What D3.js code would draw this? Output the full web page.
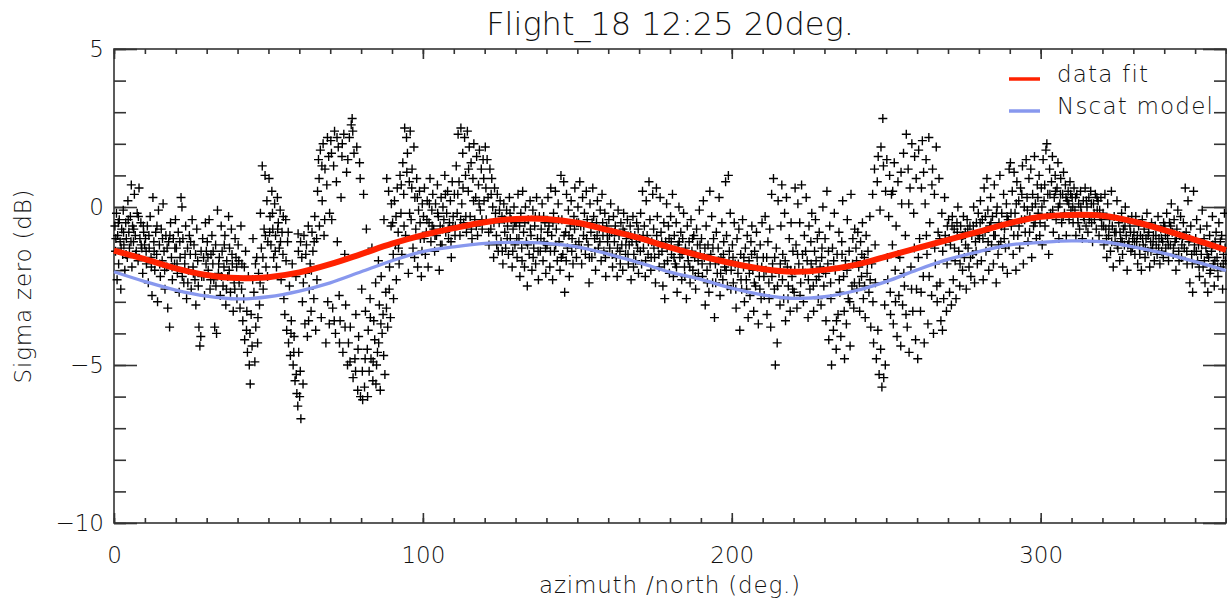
<!DOCTYPE html>
<html><head><meta charset="utf-8">
<script src="https://cdn.jsdelivr.net/npm/d3@7"></script>
<style>
body{margin:0;background:#fff}
text{font-family:"DejaVu Sans",sans-serif;font-weight:200;fill:#111}
</style></head>
<body><svg id="c" width="1227" height="605"></svg>
<script>
const title = "Flight_18 12:25 20deg.";
const xLabel = "azimuth /north (deg.)";
const yLabel = "Sigma zero (dB)";
const xTicks = [0,100,200,300];
const xMinor = d3.range(0,361,10);
const yTicks = [-10,-5,0,5];
const yMinor = d3.range(-10,6,1);
const seriesNames = ["data fit","Nscat model"];
const seriesColors = ["#ff2200","#8898ee"];
const azGrid = [0,10,20,30,40,50,60,70,80,90,100,110,120,130,140,150,160,170,180,190,200,210,220,230,240,250,260,270,280,290,300,310,320,330,340,350,360];
const dataFit = [-1.38,-1.65,-1.94,-2.15,-2.25,-2.22,-2.07,-1.81,-1.49,-1.16,-0.89,-0.67,-0.48,-0.38,-0.38,-0.5,-0.73,-0.98,-1.28,-1.55,-1.78,-1.96,-2.05,-1.99,-1.83,-1.57,-1.3,-1.04,-0.78,-0.51,-0.31,-0.25,-0.28,-0.46,-0.73,-1.04,-1.36];
const nscatModel = [-2.05,-2.36,-2.63,-2.82,-2.91,-2.84,-2.66,-2.4,-2.05,-1.7,-1.41,-1.26,-1.15,-1.12,-1.15,-1.26,-1.49,-1.76,-2.06,-2.29,-2.57,-2.78,-2.89,-2.84,-2.65,-2.36,-1.99,-1.66,-1.41,-1.2,-1.12,-1.07,-1.1,-1.26,-1.47,-1.73,-2.01];
const samples = [
[0.3,-0.6],[0.5,-1.4],[0.8,-0.2],[1.0,-2.3],[1.2,-0.9],[1.5,-1.8],[1.7,-0.4],[2.0,-1.1],[2.2,-2.6],[2.5,-0.7],[2.8,-1.5],[3.0,-0.1],[3.2,-1.2],[3.5,-2.0],[3.8,-0.5],[4.0,-1.0],[4.3,-1.6],[4.5,0.2],[4.8,-0.8],[5.0,-1.3],[5.3,-0.3],[5.6,0.7],[5.8,-1.9],[6.0,-0.6],[6.3,-1.1],[6.6,0.4],[6.9,-0.9],[7.2,-1.4],[7.5,-0.2],[7.8,-1.7],[8.1,0.6],[8.4,-1.0],[8.7,-0.5],[9.0,-1.3],[9.3,-2.1],[9.6,-0.8],[9.9,-1.2],
[10.2,-1.0],[10.5,-1.8],[10.8,-0.6],[11.1,-2.4],[11.4,-1.3],[11.7,-0.3],[12.0,-1.6],[12.3,-2.8],[12.6,0.3],[12.9,-1.1],[13.2,-2.0],[13.5,-0.8],[13.8,-1.5],[14.1,-3.0],[14.4,-0.1],[14.7,-1.2],[15.0,-2.2],[15.3,-0.7],[15.6,-1.7],[15.9,0.1],[16.2,-1.4],[16.5,-2.6],[16.8,-0.9],[17.1,-1.9],[17.4,-3.2],[17.7,-1.1],[18.0,-3.8],[18.3,-0.5],[18.6,-1.6],[18.9,-2.3],[19.2,-1.0],[19.6,-1.8],[19.9,-0.4],
[20.2,-1.3],[20.5,-2.1],[20.8,-0.8],[21.1,-2.7],[21.4,-1.6],[21.7,0.3],[22.0,0.0],[22.3,-1.0],[22.6,-2.4],[22.9,-1.8],[23.2,-0.6],[23.5,-2.9],[23.8,-1.3],[24.1,-2.0],[24.4,-0.9],[24.7,-1.5],[25.0,-2.6],[25.3,-0.4],[25.6,-1.9],[25.9,-1.2],[26.2,-2.3],[26.5,-3.1],[26.8,-0.7],[27.1,-1.7],[27.5,-3.8],[27.8,-4.4],[28.1,-4.1],[28.4,-2.2],[28.7,-1.0],[29.0,-1.6],[29.3,-2.8],[29.6,-0.5],[29.9,-1.4],
[30.2,-1.1],[30.5,-2.0],[30.8,-0.4],[31.1,-2.6],[31.4,-1.5],[31.7,-0.9],[32.0,-1.8],[32.3,-2.3],[32.6,-3.8],[32.9,-1.2],[33.2,-4.0],[33.5,-0.1],[33.8,-2.1],[34.1,-1.6],[34.4,-2.8],[34.7,-0.6],[35.0,-1.4],[35.3,-2.5],[35.6,-1.9],[35.9,-0.9],[36.2,-3.1],[36.5,-1.7],[36.8,-2.2],[37.1,-0.3],[37.4,-1.3],[37.7,-2.7],[38.0,-0.7],[38.3,-1.8],[38.6,-3.3],[38.9,-2.4],[39.2,-1.0],[39.5,-1.6],[39.8,-2.9],
[40.2,-1.2],[40.5,-2.4],[40.8,-3.2],[41.1,-0.6],[41.4,-1.8],[41.7,-3.6],[42.0,-2.9],[42.3,-4.2],[42.6,-1.4],[42.9,-3.9],[43.2,-4.6],[43.5,-2.2],[43.8,-5.0],[44.1,-5.6],[44.4,-3.4],[44.7,-4.4],[45.0,-1.0],[45.3,-2.7],[45.6,-4.9],[45.9,-3.8],[46.2,-1.6],[46.5,-4.3],[46.8,-2.1],[47.1,-3.1],[47.4,-0.2],[47.7,-1.3],[48.0,1.3],[48.3,-2.6],[48.6,-0.7],[48.9,1.0],[49.2,-1.9],[49.5,0.2],[49.8,-1.1],
[50.2,0.9],[50.5,-0.3],[50.8,-1.2],[51.1,0.5],[51.4,-0.7],[51.7,-1.6],[52.0,0.1],[52.3,-0.9],[52.6,-1.9],[52.9,0.3],[53.2,-0.5],[53.5,-1.3],[53.8,-0.1],[54.1,-2.3],[54.4,-0.8],[54.7,-1.5],[55.0,-2.9],[55.3,-3.4],[55.6,-0.4],[55.9,-3.9],[56.2,-1.1],[56.5,-4.3],[56.8,-2.5],[57.1,-4.7],[57.4,-3.6],[57.7,-1.8],[58.0,-5.0],[58.3,-4.1],[58.6,-5.5],[58.9,-2.2],[59.2,-5.9],[59.5,-6.3],[59.6,-0.85],[59.8,-4.6],
[60.1,-6.0],[60.3,-5.2],[60.5,-6.7],[60.8,-1.6],[61.0,-3.0],[61.2,-5.6],[61.5,-0.9],[61.8,-3.7],[62.0,-2.1],[62.3,-1.2],[62.6,-4.1],[62.9,-0.6],[63.2,-2.6],[63.5,-1.8],[63.8,-3.3],[64.1,-0.8],[64.4,-1.4],[64.7,-2.9],[65.0,-0.3],[65.3,-3.9],[65.6,-1.0],[65.9,0.5],[66.2,1.5],[66.5,-0.6],[66.8,1.8],[67.1,-3.5],[67.4,0.2],[67.7,2.0],[68.0,-0.9],[68.3,1.2],[68.6,-4.3],[68.9,0.7],[69.2,-3.0],[69.5,1.6],[69.8,-0.2],
[70.2,2.1],[70.5,-0.4],[70.8,-3.2],[71.1,1.3],[71.4,2.4],[71.7,-4.0],[72.0,0.8],[72.3,-1.1],[72.6,1.9],[72.9,-2.8],[73.2,-3.6],[73.5,0.3],[73.8,1.6],[74.1,-4.6],[74.4,2.3],[74.7,-1.5],[75.0,-3.1],[75.3,1.1],[75.6,-5.0],[75.9,-4.3],[76.2,2.2],[76.5,-3.8],[76.8,2.6],[77.1,2.8],[77.4,-5.4],[77.7,1.7],[78.0,-4.8],[78.3,-3.4],[78.6,1.9],[78.9,-5.8],[79.2,-4.1],[79.5,1.4],[79.8,-6.0],
[80.2,-2.6],[80.5,-6.1],[80.8,0.4],[81.1,-5.7],[81.4,-3.3],[81.7,-0.7],[82.0,-4.5],[82.3,-3.9],[82.6,-5.2],[82.9,-2.9],[83.2,-4.8],[83.5,-1.3],[83.8,-5.5],[84.1,-3.6],[84.4,-4.2],[84.7,-2.4],[85.0,-5.0],[85.3,-4.6],[85.6,-1.7],[85.9,-3.1],[86.2,-5.8],[86.5,-2.2],[86.8,-4.0],[87.1,-3.4],[87.4,-0.4],[87.7,-5.3],[88.0,-2.7],[88.3,0.9],[88.6,-3.8],[88.9,0.5],[89.2,-1.9],[89.5,-3.5],[89.8,0.1],
[90.2,-0.5],[90.5,-2.9],[90.8,0.2],[91.1,-1.2],[91.4,-2.3],[91.7,0.6],[92.0,-0.8],[92.3,-1.8],[92.6,1.0],[92.9,-0.2],[93.2,-1.5],[93.5,1.4],[93.8,0.4],[94.1,2.5],[94.4,-0.9],[94.7,2.2],[95.0,1.7],[95.3,-2.1],[95.6,0.8],[95.9,2.4],[96.2,-0.4],[96.5,1.2],[96.8,-1.3],[97.1,1.9],[97.4,0.3],[97.7,-0.7],[98.0,0.9],[98.3,-1.9],[98.6,-0.1],[98.9,0.5],[99.2,-1.0],[99.5,-2.2],[99.8,0.1],
[100.2,-0.3],[100.5,0.6],[100.8,-1.5],[101.1,-0.8],[101.4,0.2],[101.7,-1.9],[102.0,-0.5],[102.3,0.9],[102.6,-1.1],[102.9,-0.1],[103.2,0.4],[103.5,-0.7],[103.8,-1.4],[104.1,0.1],[104.4,-0.9],[104.7,0.7],[105.0,-0.3],[105.3,-2.0],[105.6,-0.6],[105.9,0.3],[106.2,-1.2],[106.5,0.0],[106.8,-0.4],[107.1,1.0],[107.4,-0.8],[107.7,-0.2],[108.0,0.5],[108.3,-1.0],[108.6,-0.5],[108.9,0.2],[109.2,-1.6],[109.5,0.8],[109.8,-0.3],
[110.2,0.4],[110.5,-0.6],[110.8,1.3],[111.1,-0.2],[111.4,2.3],[111.7,0.8],[112.0,-0.9],[112.3,2.5],[112.6,0.1],[112.9,1.7],[113.2,-0.5],[113.5,2.2],[113.8,1.0],[114.1,-0.8],[114.4,2.4],[114.7,0.5],[115.0,1.9],[115.3,-0.3],[115.6,1.4],[115.9,-1.0],[116.2,0.9],[116.5,2.0],[116.8,-0.4],[117.1,0.3],[117.4,1.6],[117.7,-0.9],[118.0,0.7],[118.3,1.8],[118.6,-0.1],[118.9,1.2],[119.2,-0.7],[119.5,1.5],[119.8,0.2],
[120.2,1.9],[120.5,-0.4],[120.8,1.5],[121.1,0.3],[121.4,-1.2],[121.7,1.2],[122.0,-0.7],[122.3,0.9],[122.6,0.0],[122.9,-1.6],[123.2,0.6],[123.5,-0.2],[123.8,-0.9],[124.1,0.4],[124.4,-1.4],[124.7,-0.5],[125.0,0.2],[125.3,-1.1],[125.6,-0.3],[125.9,-1.8],[126.2,0.1],[126.5,-0.8],[126.8,-1.3],[127.1,-0.1],[127.4,-0.6],[127.7,-1.5],[128.0,0.3],[128.3,-1.0],[128.6,-0.4],[128.9,-1.9],[129.2,-0.7],[129.5,0.0],[129.8,-1.2],
[130.2,-0.5],[130.5,-1.6],[130.8,0.4],[131.1,-1.0],[131.4,-2.2],[131.7,-0.2],[132.0,-1.3],[132.3,0.5],[132.6,-0.8],[132.9,-1.9],[133.2,0.0],[133.5,-1.1],[133.8,-2.5],[134.1,-0.4],[134.4,-1.5],[134.7,0.2],[135.0,-0.9],[135.3,-2.0],[135.6,-0.1],[135.9,-1.3],[136.2,-0.6],[136.5,-1.8],[136.8,0.3],[137.1,-1.0],[137.4,-2.3],[137.7,-0.3],[138.0,-1.4],[138.3,-0.7],[138.6,0.1],[138.9,-1.7],[139.2,-1.1],[139.5,-0.5],[139.8,-2.1],
[140.2,-1.2],[140.5,0.3],[140.8,-0.6],[141.1,-1.9],[141.4,0.6],[141.7,-0.9],[142.0,-2.3],[142.3,-0.2],[142.6,-1.4],[142.9,0.5],[143.2,-0.7],[143.5,-1.7],[143.8,0.1],[144.1,-1.1],[144.4,-2.0],[144.7,1.0],[145.0,-0.4],[145.3,-1.5],[145.6,0.8],[145.9,-2.7],[146.2,-0.8],[146.5,0.4],[146.8,-1.3],[147.1,-0.1],[147.4,-2.2],[147.7,-0.6],[148.0,0.2],[148.3,-1.0],[148.6,-1.8],[148.9,-0.3],[149.2,0.6],[149.5,-1.2],[149.8,-0.5],
[150.2,0.0],[150.5,-1.1],[150.8,0.8],[151.1,-0.6],[151.4,-1.8],[151.7,0.3],[152.0,-0.9],[152.3,-0.2],[152.6,-1.5],[152.9,0.5],[153.2,-0.4],[153.5,-1.2],[153.8,-2.4],[154.1,0.1],[154.4,-0.8],[154.7,-1.6],[155.0,0.6],[155.3,-0.3],[155.6,-1.0],[155.9,-2.0],[156.2,-0.5],[156.5,0.2],[156.8,-1.3],[157.1,-0.7],[157.4,-0.1],[157.7,-1.7],[158.0,0.4],[158.3,-0.9],[158.6,-1.4],[158.9,-0.2],[159.2,-2.2],[159.5,-0.6],[159.8,-1.1],
[160.2,-0.4],[160.5,-1.3],[160.8,0.1],[161.1,-0.8],[161.4,-1.9],[161.7,-0.3],[162.0,-1.1],[162.3,-0.6],[162.6,-1.6],[162.9,-2.2],[163.2,-0.1],[163.5,-0.9],[163.8,-1.4],[164.1,-0.5],[164.4,-1.2],[164.7,-2.0],[165.0,-0.2],[165.3,-0.8],[165.6,-1.5],[165.9,-1.0],[166.2,-0.4],[166.5,-1.8],[166.8,-1.2],[167.1,-0.6],[167.4,-2.3],[167.7,-1.1],[168.0,-0.3],[168.3,-1.5],[168.6,-0.9],[168.9,-1.7],[169.2,-0.5],[169.5,-1.3],[169.8,-2.1],
[170.2,-1.0],[170.5,-0.2],[170.8,-1.8],[171.1,0.5],[171.4,-1.3],[171.7,-0.6],[172.0,-2.2],[172.3,0.2],[172.6,-0.9],[172.9,-1.5],[173.2,0.8],[173.5,-0.4],[173.8,-2.0],[174.1,-1.1],[174.4,0.4],[174.7,-0.7],[175.0,-1.6],[175.3,-2.4],[175.6,0.6],[175.9,-0.3],[176.2,-1.2],[176.5,-1.9],[176.8,0.3],[177.1,-0.8],[177.4,-1.4],[177.7,-2.5],[178.0,-0.5],[178.3,-2.9],[178.6,-1.1],[178.9,0.1],[179.2,-1.7],[179.5,-0.6],[179.8,-2.1],
[180.2,-0.3],[180.5,-1.5],[180.8,0.4],[181.1,-2.2],[181.4,-0.9],[181.7,-1.8],[182.0,-0.5],[182.3,-2.7],[182.6,-1.2],[182.9,0.0],[183.2,-1.6],[183.5,-0.8],[183.8,-2.3],[184.1,-1.0],[184.4,-0.2],[184.7,-1.9],[185.0,-1.3],[185.3,-2.9],[185.6,-0.6],[185.9,-1.7],[186.2,-1.1],[186.5,-2.4],[186.8,-0.4],[187.1,-1.4],[187.4,-2.0],[187.7,-0.9],[188.0,-1.6],[188.3,-2.6],[188.6,-0.7],[188.9,-1.2],[189.2,-2.1],[189.5,-0.1],[189.8,-1.5],
[190.2,-1.0],[190.5,-2.2],[190.8,0.2],[191.1,-1.6],[191.4,-3.1],[191.7,-0.6],[192.0,-2.0],[192.3,-1.2],[192.6,-2.7],[192.9,0.5],[193.2,-1.5],[193.5,-0.3],[193.8,-2.4],[194.1,-1.0],[194.4,-3.5],[194.7,-1.8],[195.0,-0.8],[195.3,-2.1],[195.6,-1.3],[195.9,0.3],[196.2,-2.8],[196.5,-1.6],[196.8,-0.5],[197.1,-2.3],[197.4,-1.1],[197.7,-1.9],[198.0,0.8],[198.3,-0.9],[198.6,-2.5],[198.9,1.0],[199.2,-1.4],[199.5,-0.2],[199.8,-2.0],
[200.2,-1.2],[200.5,-2.4],[200.8,-0.5],[201.1,-1.8],[201.4,-3.2],[201.7,-1.0],[202.0,-2.1],[202.3,-0.7],[202.6,-3.9],[202.9,-1.5],[203.2,-2.6],[203.5,-0.4],[203.8,-1.9],[204.1,-3.0],[204.4,-1.3],[204.7,-2.3],[205.0,-0.9],[205.3,-3.5],[205.6,-1.7],[205.9,-2.8],[206.2,-1.1],[206.5,-0.6],[206.8,-2.0],[207.1,-3.3],[207.4,-1.4],[207.7,-2.5],[208.0,-0.8],[208.3,-1.9],[208.6,-3.7],[208.9,-2.2],[209.2,-1.2],[209.5,-2.9],[209.8,-0.5],
[210.2,-1.6],[210.5,-2.8],[210.8,-0.3],[211.1,-2.0],[211.4,-3.4],[211.7,-1.1],[212.0,-2.4],[212.3,-0.7],[212.6,-3.8],[212.9,0.4],[213.2,-1.8],[213.5,0.9],[213.8,-2.6],[214.1,-5.0],[214.4,-1.3],[214.7,-4.3],[215.0,0.2],[215.3,-2.1],[215.6,-3.1],[215.9,-0.6],[216.2,0.7],[216.5,-1.5],[216.8,-2.9],[217.1,-0.2],[217.4,-3.6],[217.7,0.3],[218.0,-1.9],[218.3,-2.5],[218.6,-1.0],[218.9,-3.3],[219.2,-0.5],[219.5,-2.2],[219.8,-1.4],
[220.2,-2.7],[220.5,0.6],[220.8,-1.2],[221.1,-3.2],[221.4,0.1],[221.7,-1.8],[222.0,-0.5],[222.3,-2.4],[222.6,0.7],[222.9,-1.5],[223.2,-3.0],[223.5,-0.9],[223.8,-2.1],[224.1,0.3],[224.4,-1.7],[224.7,-3.5],[225.0,-0.6],[225.3,-2.6],[225.6,-1.1],[225.9,-0.2],[226.2,-2.0],[226.5,-3.3],[226.8,-1.4],[227.1,-0.4],[227.4,-2.3],[227.7,-1.0],[228.0,-2.9],[228.3,-0.8],[228.6,-1.9],[228.9,-3.1],[229.2,-1.3],[229.5,0.0],[229.8,-2.5],
[230.2,-1.0],[230.5,-3.6],[230.8,0.5],[231.1,-1.8],[231.4,-4.2],[231.7,-0.6],[232.0,-2.4],[232.3,-5.0],[232.6,-1.3],[232.9,-3.9],[233.2,-0.2],[233.5,-2.0],[233.8,-4.5],[234.1,-1.5],[234.4,-3.4],[234.7,-0.8],[235.0,-2.7],[235.3,-4.1],[235.6,-1.1],[235.9,0.2],[236.2,-2.2],[236.5,-4.8],[236.8,-1.7],[237.1,-3.7],[237.4,-0.4],[237.7,-2.9],[238.0,-1.4],[238.3,-4.4],[238.6,0.4],[238.9,-2.5],[239.2,-1.0],[239.5,-3.2],[239.8,-0.7],
[240.2,-1.3],[240.5,-2.6],[240.8,-0.8],[241.1,-1.9],[241.4,-3.3],[241.7,-1.1],[242.0,-2.2],[242.3,-0.5],[242.6,-2.9],[242.9,-1.6],[243.2,-3.5],[243.5,-0.9],[243.8,-2.1],[244.1,-1.4],[244.4,-2.7],[244.7,-0.3],[245.0,-3.8],[245.3,-1.8],[245.6,0.4],[245.9,-4.3],[246.2,1.2],[246.5,-2.4],[246.8,-4.8],[247.1,0.8],[247.4,1.6],[247.7,-5.3],[248.0,-0.1],[248.3,1.9],[248.6,-5.7],[248.9,2.8],[249.2,-5.4],[249.5,-3.1],[249.8,0.5],
[250.2,1.5],[250.5,-2.3],[250.8,-0.3],[251.1,1.0],[251.4,-3.4],[251.7,0.4],[252.0,-1.2],[252.3,-3.7],[252.6,1.4],[252.9,-2.0],[253.2,-0.6],[253.5,-4.1],[253.8,0.8],[254.1,-2.8],[254.4,-1.6],[254.7,-4.4],[255.0,0.1],[255.3,-3.1],[255.6,1.7],[255.9,-2.5],[256.2,-0.9],[256.5,2.3],[256.8,-3.8],[257.1,1.2],[257.4,-4.6],[257.7,0.6],[258.0,-1.9],[258.3,2.0],[258.6,-3.3],[258.9,-0.2],[259.2,1.6],[259.5,-4.2],[259.8,-2.6],
[260.2,-4.8],[260.5,1.8],[260.8,-1.0],[261.1,-3.3],[261.4,0.6],[261.7,2.1],[262.0,-2.2],[262.3,-4.3],[262.6,0.1],[262.9,1.5],[263.2,-1.5],[263.5,-3.7],[263.8,2.2],[264.1,-0.5],[264.7,-2.8],[265.0,1.2],[265.3,-4.0],[265.6,0.4],[265.9,-1.8],[266.2,1.9],[266.5,-3.0],[266.8,-0.8],[267.1,0.9],[267.4,-2.4],[267.7,-3.6],[268.0,-0.2],[268.3,-1.4],[268.6,-2.9],[268.9,0.3],[269.2,-1.1],[269.5,-3.3],[269.8,-0.6],
[270.2,-0.4],[270.5,-2.7],[270.8,-1.2],[271.1,-3.1],[271.4,-0.3],[271.7,-2.3],[272.0,-0.7],[272.3,-1.7],[272.6,-2.9],[272.9,-0.5],[273.2,0.0],[273.5,-1.4],[273.8,-2.5],[274.1,-0.6],[274.4,-1.0],[274.7,-2.0],[275.0,-0.3],[275.3,-1.6],[275.6,-0.8],[275.9,-2.6],[276.2,-0.4],[276.5,-1.3],[276.8,-1.9],[277.1,-0.6],[277.4,-2.2],[277.7,-0.9],[278.0,-1.5],[278.3,0.0],[278.6,-2.4],[278.9,-1.1],[279.2,-0.5],[279.5,-1.8],[279.8,-0.2],
[280.2,-1.0],[280.5,0.2],[280.8,-1.7],[281.1,-0.4],[281.4,-2.3],[281.7,0.6],[282.0,-0.8],[282.3,-1.4],[282.6,0.9],[282.9,-0.1],[283.2,-2.0],[283.5,-0.6],[283.8,0.3],[284.1,-1.2],[284.4,-0.3],[284.7,-1.8],[285.0,0.7],[285.3,-0.9],[285.6,-2.4],[285.9,0.0],[286.2,-1.5],[286.5,-0.5],[286.8,1.0],[287.1,-1.1],[287.4,-0.2],[287.7,-1.9],[288.0,0.4],[288.3,-0.7],[288.6,-1.3],[288.9,0.1],[289.2,-2.1],[289.5,-0.4],[289.8,1.2],
[290.2,1.4],[290.5,-0.6],[290.8,0.5],[291.1,-1.5],[291.4,1.1],[291.7,-0.2],[292.0,-2.0],[292.3,0.8],[292.6,-0.9],[292.9,0.2],[293.2,-1.3],[293.5,0.6],[293.8,-0.4],[294.1,1.3],[294.4,-1.8],[294.7,0.0],[295.0,-0.8],[295.3,1.5],[295.6,0.3],[295.9,-1.1],[296.2,0.9],[296.5,-0.3],[296.8,1.2],[297.1,-1.6],[297.4,0.4],[297.7,-0.6],[298.0,1.6],[298.3,0.1],[298.6,-1.0],[298.9,0.7],[299.2,-0.2],[299.5,1.0],[299.8,-0.5],
[300.2,0.6],[300.5,-1.2],[300.8,1.5],[301.1,0.2],[301.4,-0.6],[301.7,1.8],[302.0,2.0],[302.3,0.4],[302.6,-1.5],[302.9,1.2],[303.2,-0.2],[303.5,0.8],[303.8,1.6],[304.1,-0.8],[304.4,0.3],[304.7,1.0],[305.0,-0.4],[305.3,0.6],[305.6,1.4],[305.9,-1.0],[306.2,0.1],[306.5,0.9],[306.8,-0.5],[307.1,0.4],[307.4,1.1],[307.7,-0.2],[308.0,0.7],[308.3,-0.9],[308.6,0.2],[308.9,0.5],[309.2,-0.4],[309.5,0.8],[309.8,-0.1],
[310.2,0.3],[310.5,-0.5],[310.8,0.6],[311.1,-0.1],[311.4,-0.9],[311.7,0.4],[312.0,-0.3],[312.3,0.1],[312.6,-0.7],[312.9,0.5],[313.2,-0.2],[313.5,-1.0],[313.8,0.2],[314.1,-0.4],[314.4,0.6],[314.7,-0.6],[315.0,0.0],[315.3,-0.8],[315.6,0.3],[315.9,-0.3],[316.2,0.5],[316.5,-0.5],[316.8,-1.1],[317.1,0.1],[317.4,-0.4],[317.7,0.4],[318.0,-0.7],[318.3,-0.1],[318.6,0.2],[318.9,-0.9],[319.2,-0.3],[319.5,0.3],[319.8,-0.6],
[320.2,-0.2],[320.5,-1.2],[320.8,0.4],[321.1,-0.7],[321.4,-1.6],[321.7,0.1],[322.0,-0.9],[322.3,-0.4],[322.6,-1.4],[322.9,0.5],[323.2,-0.6],[323.5,-1.9],[323.8,-0.3],[324.1,-1.1],[324.4,-0.8],[324.7,0.2],[325.0,-1.3],[325.3,-0.5],[325.6,-1.7],[325.9,-1.0],[326.2,-0.2],[326.5,-1.5],[326.8,-0.7],[327.1,-1.2],[327.4,0.0],[327.7,-0.9],[328.0,-2.0],[328.3,-0.4],[328.6,-1.1],[328.9,-0.6],[329.2,-1.4],[329.5,-0.3],[329.8,-1.0],
[330.2,-0.8],[330.5,-1.5],[330.8,-0.3],[331.1,-1.1],[331.4,-1.8],[331.7,-0.6],[332.0,-1.3],[332.3,-0.9],[332.6,-2.0],[332.9,-0.4],[333.2,-1.2],[333.5,-0.7],[333.8,-1.6],[334.1,-1.0],[334.4,-0.2],[334.7,-1.4],[335.0,-0.8],[335.3,-1.9],[335.6,-1.1],[335.9,-0.5],[336.2,-1.3],[336.5,-0.9],[336.8,-1.7],[337.1,-0.6],[337.4,-1.2],[337.7,-1.5],[338.0,-0.3],[338.3,-1.0],[338.6,-1.8],[338.9,-0.7],[339.2,-1.4],[339.5,-1.1],[339.8,-0.5],
[340.2,-0.6],[340.5,-1.3],[340.8,-0.2],[341.1,-1.0],[341.4,-1.7],[341.7,-0.5],[342.0,-1.2],[342.3,0.1],[342.6,-0.8],[342.9,-1.5],[343.2,-0.4],[343.5,-1.1],[343.8,-2.0],[344.1,-0.7],[344.4,-0.1],[344.7,-1.4],[345.0,-0.9],[345.3,-0.3],[345.6,-1.6],[345.9,-1.0],[346.2,-0.5],[346.5,-1.3],[346.8,0.6],[347.1,-0.8],[347.4,-1.8],[347.7,0.2],[348.0,-1.1],[348.3,-2.4],[348.6,-0.6],[348.9,-1.5],[349.2,-2.7],[349.5,0.5],[349.8,-1.2],
[350.2,-1.0],[350.5,-0.4],[350.8,-1.7],[351.1,-1.2],[351.4,-2.2],[351.7,-0.7],[352.0,-1.5],[352.3,-0.1],[352.6,-1.9],[352.9,-1.0],[353.2,-2.4],[353.5,-1.3],[353.8,-0.6],[354.1,-2.7],[354.4,-1.6],[354.7,-0.9],[355.0,-2.0],[355.3,-1.4],[355.6,-0.3],[355.9,-1.8],[356.2,-2.5],[356.5,-1.1],[356.8,-0.8],[357.1,-1.6],[357.4,-2.2],[357.7,-0.5],[358.0,-1.3],[358.3,-1.9],[358.6,-0.9],[358.9,-2.6],[359.2,-1.5],[359.5,-0.2],[359.8,-1.7]
];
const denseSamples = [
[0.6,-1.0],[1.4,-0.5],[2.3,-1.3],[3.1,-0.8],[3.9,-1.5],[4.6,-0.4],[5.5,-1.1],[6.4,-0.7],[7.0,-1.5],[7.9,-0.3],[8.8,-1.2],[9.5,-0.6],
[10.4,-1.4],[11.3,-0.9],[12.1,-1.9],[13.0,-1.4],[13.9,-0.6],[14.8,-1.8],[15.7,-1.0],[16.4,-2.0],[17.2,-1.3],[18.1,-0.9],[18.8,-1.9],[19.7,-1.3],
[20.4,-1.8],[21.3,-1.1],[22.1,-2.2],[23.0,-1.5],[23.9,-2.4],[24.8,-1.1],[25.7,-2.1],[26.4,-1.5],[27.3,-2.5],[28.2,-1.4],[29.1,-2.2],[29.8,-1.8],
[30.4,-1.6],[31.3,-2.3],[32.1,-1.4],[33.0,-2.5],[33.9,-1.8],[34.8,-2.2],[35.7,-1.2],[36.4,-2.6],[37.3,-2.0],[38.2,-1.5],[39.1,-2.6],[39.7,-1.9],
[40.4,-1.7],[41.3,-2.6],[42.2,-1.9],[43.0,-3.3],[44.0,-4.0],[44.9,-2.3],[45.8,-1.8],[46.6,-3.5],[47.3,-2.4],[48.2,-1.6],[49.0,-0.9],[49.7,-2.2],
[50.4,-0.8],[51.3,-0.2],[52.2,-1.4],[53.0,-0.7],[53.9,-1.1],[54.8,-0.3],[55.7,-1.7],[56.4,-0.8],[57.3,-4.0],[58.2,-4.6],[59.0,-5.3],[59.7,-1.4],
[60.4,-1.1],[61.3,-2.4],[62.1,-1.5],[63.0,-3.6],[63.9,-2.0],[64.8,-1.1],[65.7,-2.3],[66.4,0.9],[67.3,1.3],[68.2,-0.4],[69.1,2.2],[69.7,-3.7],
[70.4,1.7],[71.3,-3.6],[72.2,2.2],[73.0,-4.3],[73.9,2.0],[74.8,-3.8],[75.7,1.5],[76.4,-4.9],[77.3,2.4],[78.2,-5.2],[79.0,-4.5],[79.7,0.9],
[80.4,-5.2],[81.3,-4.8],[82.1,-6.0],[83.0,-3.5],[83.9,-4.9],[84.8,-5.6],[85.7,-4.3],[86.4,-3.7],[87.3,-4.7],[88.2,-3.2],[89.1,-2.6],[89.7,-0.6],
[90.4,-1.5],[91.3,-0.3],[92.1,-1.3],[93.0,0.7],[93.9,-0.6],[94.8,1.1],[95.7,-0.2],[96.4,0.6],[97.3,-1.6],[98.2,0.3],[99.1,-0.5],[99.7,-1.4],
[100.4,-1.0],[101.3,-0.4],[102.1,0.1],[103.0,-0.6],[103.9,-0.9],[104.8,-0.2],[105.7,-1.2],[106.4,-0.7],[107.3,0.4],[108.2,-0.7],[109.1,-1.1],[109.7,-0.6],
[110.4,-0.9],[111.3,0.4],[112.2,-0.4],[113.0,0.6],[113.9,-0.3],[114.8,1.2],[115.7,-0.7],[116.4,0.2],[117.3,-0.6],[118.2,0.1],[119.1,-0.4],[119.7,0.9],
[120.4,0.6],[121.3,-0.8],[122.1,0.4],[123.0,-0.5],[123.9,-1.2],[124.8,-0.1],[125.7,-1.4],[126.4,-0.4],[127.3,-1.0],[128.2,-0.2],[129.1,-1.4],[129.7,-0.5],
[130.4,-1.0],[131.3,-0.6],[132.1,-1.7],[133.0,-0.5],[133.9,-1.2],[134.8,-0.7],[135.7,-1.6],[136.4,-0.3],[137.3,-1.4],[138.2,-1.0],[139.1,-0.3],[139.7,-1.3],
[140.4,-0.8],[141.3,-1.4],[142.1,-0.5],[143.0,-1.2],[143.9,-0.4],[144.8,-1.6],[145.7,-0.9],[146.4,-1.7],[147.3,-0.9],[148.2,-1.4],[149.1,-0.7],[149.7,-1.6],
[150.4,-0.5],[151.3,-1.3],[152.1,-0.6],[153.0,-1.0],[153.9,-1.6],[154.8,-0.5],[155.7,-1.4],[156.4,-0.9],[157.3,-1.1],[158.2,-0.5],[159.1,-1.6],[159.7,-0.9],
[160.4,-0.9],[161.3,-1.5],[162.1,-0.8],[163.0,-1.3],[163.9,-1.8],[164.8,-0.7],[165.7,-1.2],[166.4,-1.5],[167.3,-0.9],[168.2,-1.9],[169.1,-1.1],[169.7,-0.7],
[170.4,-1.4],[171.3,-0.9],[172.1,-1.7],[173.0,-1.1],[173.9,-1.6],[174.8,-1.3],[175.7,-0.9],[176.4,-1.5],[177.3,-1.1],[178.2,-1.8],[179.1,-1.3],[179.7,-1.0],
[180.4,-1.1],[181.3,-1.6],[182.1,-1.9],[183.0,-1.1],[183.9,-1.5],[184.8,-2.2],[185.7,-1.5],[186.4,-1.9],[187.3,-1.0],[188.2,-2.2],[189.1,-1.7],[189.7,-1.2],
[190.4,-1.8],[191.3,-1.3],[192.1,-2.4],[193.0,-1.8],[193.9,-1.3],[194.8,-2.4],[195.7,-1.7],[196.4,-2.1],[197.3,-1.5],[198.2,-2.0],[199.1,-1.7],[199.7,-2.6],
[200.4,-1.6],[201.3,-2.6],[202.1,-1.8],[203.0,-2.3],[203.9,-1.6],[204.8,-2.6],[205.7,-2.1],[206.4,-1.5],[207.3,-2.4],[208.2,-1.6],[209.1,-2.6],[209.7,-1.9],
[210.4,-2.2],[211.3,-1.6],[212.1,-2.9],[213.0,-2.2],[213.9,-1.6],[214.8,-2.5],[215.7,-1.8],[216.4,-2.3],[217.3,-1.7],[218.2,-2.9],[219.1,-2.0],[219.7,-2.6],
[220.4,-2.0],[221.3,-1.5],[222.1,-2.8],[223.0,-2.0],[223.9,-1.4],[224.8,-2.3],[225.7,-1.8],[226.4,-2.5],[227.3,-1.7],[228.2,-2.2],[229.1,-1.6],[229.7,-2.0],
[230.4,-2.1],[231.3,-1.4],[232.1,-2.9],[233.0,-1.7],[233.9,-3.6],[234.8,-2.3],[235.7,-1.5],[236.4,-3.3],[237.3,-2.0],[238.2,-3.0],[239.1,-1.8],[239.7,-2.4],
[240.4,-1.7],[241.3,-2.4],[242.1,-1.5],[243.0,-2.5],[243.9,-1.8],[244.8,-2.3],[245.7,-3.0],[246.4,-1.2],[247.3,-3.9],[248.2,-4.5],[249.1,1.3],[249.7,-5.0],
[250.4,-1.6],[251.3,-2.7],[252.1,0.5],[253.0,-3.0],[253.9,-1.5],[254.8,1.1],[255.7,-2.1],[256.4,-3.4],[257.3,0.1],[258.2,-2.6],[259.1,-1.3],[259.7,0.9],
[260.4,-1.6],[261.3,-2.7],[262.1,1.1],[263.0,-0.9],[263.9,-2.2],[264.8,0.7],[265.7,-1.3],[266.4,-2.5],[267.3,-1.0],[268.2,-3.9],[269.1,-0.9],[269.7,-1.8],
[270.4,-1.0],[271.3,-0.6],[272.1,-1.3],[273.0,-0.8],[273.9,-1.8],[274.8,-0.9],[275.7,-1.2],[276.4,-0.7],[277.3,-1.6],[278.2,-0.6],[279.1,-1.4],[279.7,-0.9],
[280.4,-0.5],[281.3,-1.0],[282.1,-0.3],[283.0,-1.1],[283.9,-0.5],[284.8,-0.9],[285.7,-0.2],[286.4,-1.2],[287.3,-0.6],[288.2,-1.0],[289.1,-0.3],[289.7,-1.2],
[290.4,-0.2],[291.3,-0.9],[292.1,0.1],[293.0,-0.6],[293.9,0.4],[294.8,-0.4],[295.7,-0.1],[296.4,-0.8],[297.3,0.0],[298.2,-0.5],[299.1,0.3],[299.7,-0.9],
[300.4,0.0],[301.3,0.7],[302.1,-0.3],[303.0,0.4],[303.9,-0.1],[304.8,0.5],[305.7,0.0],[306.4,0.4],[307.3,-0.3],[308.2,0.3],[309.1,0.1],[309.7,0.4],
[310.4,0.0],[311.3,0.3],[312.1,-0.5],[313.0,0.0],[313.9,-0.3],[314.8,0.2],[315.7,-0.4],[316.4,0.1],[317.3,-0.2],[318.2,0.3],[319.1,-0.1],[319.7,-0.4],
[320.4,-0.6],[321.3,-1.0],[322.1,-0.7],[323.0,-1.1],[323.9,-0.8],[324.8,-1.2],[325.7,-0.8],[326.4,-1.1],[327.3,-0.6],[328.2,-1.2],[329.1,-0.8],[329.7,-1.3],
[330.4,-1.1],[331.3,-0.9],[332.1,-1.5],[333.0,-1.0],[333.9,-1.3],[334.8,-0.9],[335.7,-1.4],[336.4,-1.1],[337.3,-0.9],[338.2,-1.3],[339.1,-1.0],[339.7,-1.6],
[340.4,-0.9],[341.3,-1.2],[342.1,-0.6],[343.0,-1.3],[343.9,-1.0],[344.8,-1.7],[345.7,-1.2],[346.4,-0.9],[347.3,-1.4],[348.2,-1.0],[349.1,-1.8],[349.7,-1.4],
[350.4,-1.4],[351.3,-1.9],[352.1,-1.2],[353.0,-1.7],[353.9,-1.5],[354.8,-2.1],[355.7,-1.2],[356.4,-1.7],[357.3,-1.9],[358.2,-1.1],[359.1,-1.8],[359.7,-1.3]
];

const svg = d3.select("#c");
const L = 114, R = 1226, T = 49, B = 523;
const x = d3.scaleLinear().domain([0,360]).range([L,R]);
const y = d3.scaleLinear().domain([-10,5]).range([B,T]);
const axisColor = "#333";

svg.append("rect").attr("x",L).attr("y",T).attr("width",R-L).attr("height",B-T)
  .attr("fill","none").attr("stroke",axisColor).attr("stroke-width",1.6);

function styleAxis(g){
  g.select(".domain").remove();
  g.selectAll(".tick line").attr("stroke",axisColor).attr("stroke-width",1.6);
  g.selectAll("text").attr("fill","#111").attr("font-size",23)
    .style("font-family","'DejaVu Sans',sans-serif").style("font-weight",200);
}
svg.append("g").attr("transform",`translate(0,${B})`)
  .call(d3.axisBottom(x).tickValues(xMinor).tickSize(-5).tickFormat("")).call(styleAxis);
svg.append("g").attr("transform",`translate(0,${B})`)
  .call(d3.axisBottom(x).tickValues(xTicks).tickSize(-10).tickPadding(24).tickFormat(d3.format("d")))
  .call(styleAxis);
svg.append("g").attr("transform",`translate(0,${T})`)
  .call(d3.axisTop(x).tickValues(xMinor).tickSize(-5).tickFormat("")).call(styleAxis);
svg.append("g").attr("transform",`translate(0,${T})`)
  .call(d3.axisTop(x).tickValues(xTicks).tickSize(-10).tickFormat("")).call(styleAxis);
const minus = d => d < 0 ? "\u2212" + Math.abs(d) : String(d);
svg.append("g").attr("transform",`translate(${L},0)`)
  .call(d3.axisLeft(y).tickValues(yMinor).tickSize(-12).tickFormat("")).call(styleAxis);
svg.append("g").attr("transform",`translate(${L},0)`)
  .call(d3.axisLeft(y).tickValues(yTicks).tickSize(-23).tickPadding(10).tickFormat(minus)).call(styleAxis);
svg.append("g").attr("transform",`translate(${R},0)`)
  .call(d3.axisRight(y).tickValues(yMinor).tickSize(-12).tickFormat("")).call(styleAxis);
svg.append("g").attr("transform",`translate(${R},0)`)
  .call(d3.axisRight(y).tickValues(yTicks).tickSize(-23).tickFormat("")).call(styleAxis);

const h = 4.5;
svg.append("path")
  .attr("d", samples.concat(denseSamples).map(([a,s]) => {
    const px = x(a), py = y(s);
    return `M${px-h},${py}H${px+h}M${px},${py-h}V${py+h}`;
  }).join(""))
  .attr("stroke","#000").attr("stroke-width",1.4).attr("fill","none");

const line = d3.line().x((d,i)=>x(azGrid[i])).y(d=>y(d)).curve(d3.curveCatmullRom);
svg.append("path").datum(nscatModel).attr("d",line).attr("fill","none")
  .attr("stroke",seriesColors[1]).attr("stroke-width",3.3);
svg.append("path").datum(dataFit).attr("d",line).attr("fill","none")
  .attr("stroke",seriesColors[0]).attr("stroke-width",6);

const lg = svg.append("g");
[79,111].forEach((ly,i)=>{
  lg.append("line").attr("x1",1009).attr("x2",1040).attr("y1",ly).attr("y2",ly)
    .attr("stroke",seriesColors[i]).attr("stroke-width",3.5);
  lg.append("text").attr("x",1057).attr("y",ly+3).attr("font-size",23)
    .attr("letter-spacing",1.2).text(seriesNames[i]);
});

svg.append("text").attr("x",(L+R)/2).attr("y",35).attr("text-anchor","middle")
  .attr("font-size",32).text(title);
svg.append("text").attr("x",(L+R)/2).attr("y",593).attr("text-anchor","middle")
  .attr("font-size",23).attr("letter-spacing",0.8).text(xLabel);
svg.append("text").attr("transform",`translate(31,${(T+B)/2}) rotate(-90)`)
  .attr("text-anchor","middle").attr("font-size",23).attr("letter-spacing",0.8).text(yLabel);
</script></body></html>
